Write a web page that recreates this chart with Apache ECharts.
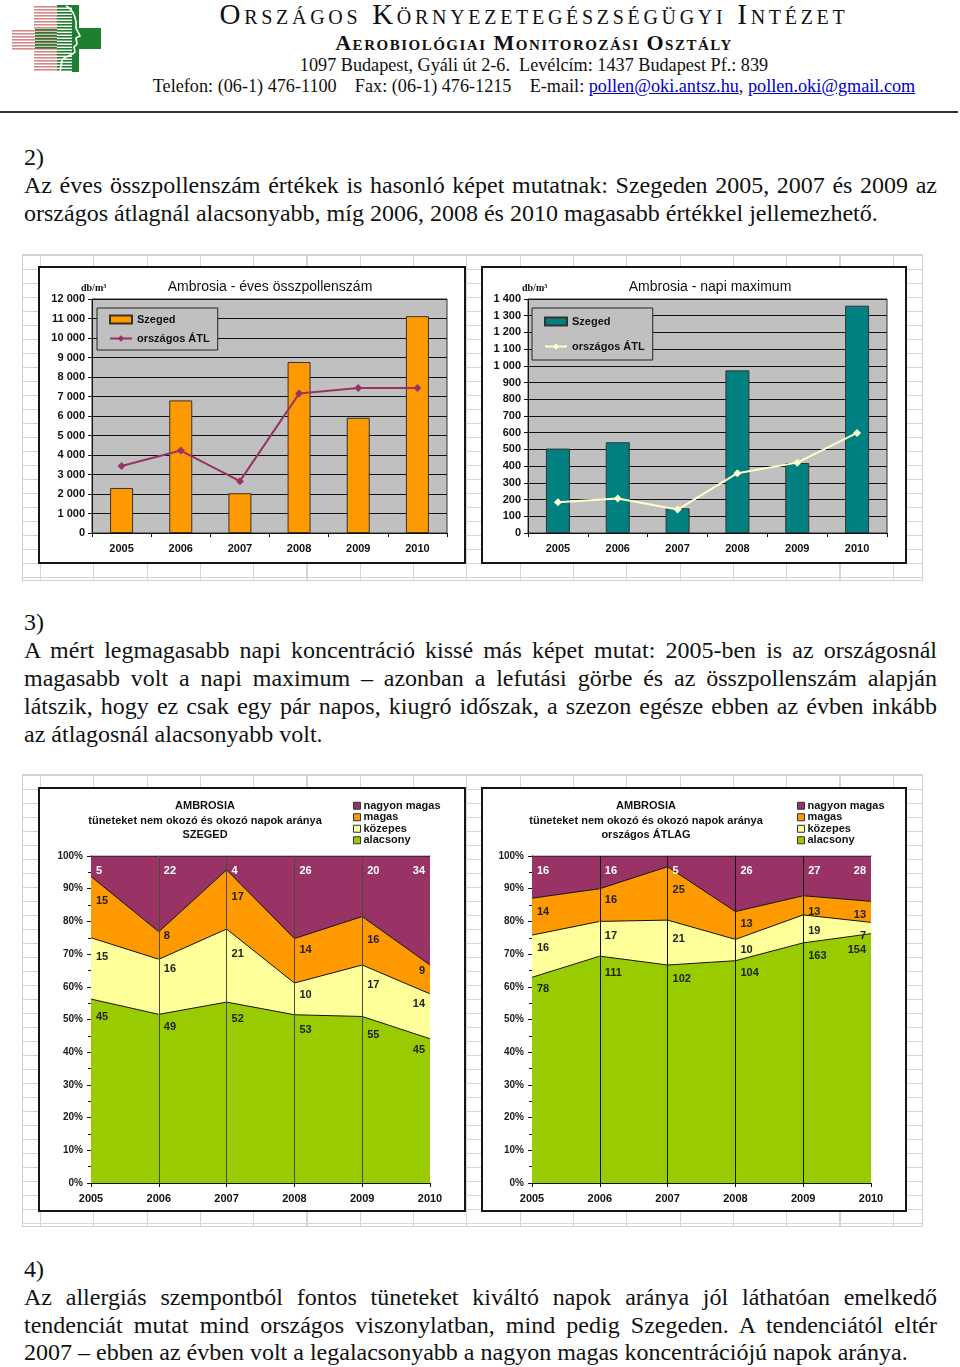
<!DOCTYPE html>
<html>
<head>
<meta charset="utf-8">
<script src="https://cdn.jsdelivr.net/npm/echarts@6/dist/echarts.min.js"></script>
<style>
  html, body { margin:0; padding:0; background:#fff; }
  body { width:960px; height:1367px; position:relative; overflow:hidden; font-family:"Liberation Serif","Times New Roman",serif; color:#111; }
  .abs { position:absolute; }
  .hl { position:absolute; left:134px; width:800px; text-align:center; white-space:nowrap; line-height:1; }
  .para { position:absolute; left:24px; width:913px; font-size:24px; line-height:28px; }
  .para div { white-space:nowrap; }
  .para .j { text-align:justify; text-align-last:justify; }
  .frame { position:absolute; border:1px solid #d0d0d0; box-sizing:border-box;
    background-image:
      repeating-linear-gradient(to right, #d6d6d6 0, #d6d6d6 1px, transparent 1px, transparent 53.3px),
      repeating-linear-gradient(to bottom, #d6d6d6 0, #d6d6d6 1px, transparent 1px, transparent 14px);
  }
  .chart { position:absolute; background:#fff; }
  a { color:#0000cc; text-decoration:underline; }
</style>
</head>
<body>
<!-- logo -->
<svg class="abs" style="left:0;top:0" width="110" height="80" viewBox="0 0 110 80">
  <g id="stripes"></g>
</svg>

<div class="hl" style="top:0px;font-size:29px;font-variant:small-caps;letter-spacing:3.7px;">Országos Környezetegészségügyi Intézet</div>
<div class="hl" style="top:32px;font-size:22px;font-variant:small-caps;font-weight:bold;letter-spacing:1.5px;">Aerobiológiai Monitorozási Osztály</div>
<div class="hl" style="top:55.5px;font-size:18.2px;">1097 Budapest, Gyáli út 2-6.&nbsp; Levélcím: 1437 Budapest Pf.: 839</div>
<div class="hl" style="top:76.5px;font-size:18.2px;">Telefon: (06-1) 476-1100&nbsp;&nbsp;&nbsp; Fax: (06-1) 476-1215&nbsp;&nbsp;&nbsp; E-mail: <a>pollen@oki.antsz.hu</a>, <a>pollen.oki@gmail.com</a></div>
<div class="abs" style="left:0;top:111px;width:958px;height:2px;background:#333;"></div>

<div class="para" style="top:143px;">
  <div>2)</div>
  <div class="j">Az éves összpollenszám értékek is hasonló képet mutatnak: Szegeden 2005, 2007 és 2009 az</div>
  <div>országos átlagnál alacsonyabb, míg 2006, 2008 és 2010 magasabb értékkel jellemezhető.</div>
</div>

<div class="frame" style="left:22px;top:254px;width:901px;height:327px;background-position:17px 0,0 0;"></div>
<div class="chart" id="c1" style="left:38px;top:266px;width:428px;height:298px;"></div>
<div class="chart" id="c2" style="left:481px;top:266px;width:426px;height:298px;"></div>

<div class="para" style="top:608px;">
  <div>3)</div>
  <div class="j">A mért legmagasabb napi koncentráció kissé más képet mutat: 2005-ben is az országosnál</div>
  <div class="j">magasabb volt a napi maximum – azonban a lefutási görbe és az összpollenszám alapján</div>
  <div class="j">látszik, hogy ez csak egy pár napos, kiugró időszak, a szezon egésze ebben az évben inkább</div>
  <div>az átlagosnál alacsonyabb volt.</div>
</div>

<div class="frame" style="left:22px;top:774px;width:901px;height:453px;background-position:17px 0,0 0;"></div>
<div class="chart" id="c3" style="left:38px;top:787px;width:428px;height:425px;"></div>
<div class="chart" id="c4" style="left:481px;top:787px;width:426px;height:425px;"></div>

<div class="para" style="top:1256px;line-height:27.8px;">
  <div>4)</div>
  <div class="j">Az allergiás szempontból fontos tüneteket kiváltó napok aránya jól láthatóan emelkedő</div>
  <div class="j">tendenciát mutat mind országos viszonylatban, mind pedig Szegeden. A tendenciától eltér</div>
  <div>2007 – ebben az évben volt a legalacsonyabb a nagyon magas koncentrációjú napok aránya.</div>
</div>

<script>
// ---------------- DATA ----------------
const years = ['2005', '2006', '2007', '2008', '2009', '2010'];

// Chart 1: Ambrosia - éves összpollenszám (db/m3)
const annualSzeged   = [2310, 6800, 2040, 8770, 5910, 11120];
const annualNational = [3440, 4230, 2660, 7150, 7440, 7430];

// Chart 2: Ambrosia - napi maximum (db/m3)
const peakSzeged   = [505, 543, 148, 973, 419, 1360];
const peakNational = [184, 206, 140, 358, 421, 599];

// Charts 3-4: number of days per concentration level
const levelNames = ['nagyon magas', 'magas', 'közepes', 'alacsony'];
const szegedVeryHigh = [5, 22, 4, 26, 20, 34];
const szegedHigh     = [15, 8, 17, 14, 16, 9];
const szegedMid      = [15, 16, 21, 10, 17, 14];
const szegedLow      = [45, 49, 52, 53, 55, 45];
const nationalVeryHigh = [16, 16, 5, 26, 27, 28];
const nationalHigh     = [14, 16, 25, 13, 13, 13];
const nationalMid      = [16, 17, 21, 10, 19, 7];
const nationalLow      = [78, 111, 102, 104, 163, 154];

// ---------------- LOGO ----------------
(function () {
  const ns = 'http://www.w3.org/2000/svg';
  const g = document.getElementById('stripes');
  function rect(x, y, w, h, fill) {
    const r = document.createElementNS(ns, 'rect');
    r.setAttribute('x', x); r.setAttribute('y', y); r.setAttribute('width', w); r.setAttribute('height', h);
    r.setAttribute('fill', fill); g.appendChild(r);
  }
  rect(57, 5, 22, 67, '#1e7f2e');
  rect(57, 28, 44, 21, '#1e7f2e');
  for (let y = 6; y < 72; y += 3) {
    const inBand = y >= 28 && y < 49;
    rect(inBand ? 12 : 34, y, (inBand ? 45 : 23), 1.6, '#d48a8a');
    rect(57, y + 1.6, 15, 1.4, '#ffffff');
  }
  for (let y = 29; y < 49; y += 3) rect(35, y, 22, 1.6, '#1e7f2e');
  const p = document.createElementNS(ns, 'path');
  p.setAttribute('d', 'M66 6 C74 10 77 20 76 28 L80 36 L76 38 L77 44 L74 47 L75 52 C72 56 64 56 62 60 L60 72');
  p.setAttribute('stroke', '#fff'); p.setAttribute('stroke-width', '1.6'); p.setAttribute('fill', 'none');
  g.appendChild(p);
})();

// ---------------- HELPERS ----------------
function thousands(v) { return String(v).replace(/\B(?=(\d{3})+(?!\d))/g, ' '); }
function frame(w, h) {
  return { type: 'rect', shape: { x: 1, y: 1, width: w - 2, height: h - 2 }, style: { fill: 'none', stroke: '#151515', lineWidth: 2 }, z: 100 };
}
const axisLabelBold = { color: '#111', fontSize: 11, fontWeight: 'bold', fontFamily: 'Liberation Sans, Arial, sans-serif' };

function barLineOption(opts) {
  return {
    animation: false,
    textStyle: { fontFamily: 'Liberation Sans, Arial, sans-serif' },
    title: {
      text: opts.title, left: opts.titleX, top: 9, textAlign: 'center',
      textStyle: { fontSize: 14, fontWeight: 'normal', color: '#111', fontFamily: 'Liberation Sans, Arial, sans-serif' }
    },
    graphic: [
      frame(opts.w, opts.h),
      { type: 'text', left: opts.unitX, top: 17, style: { text: 'db/m³', font: 'bold 10px "Liberation Serif", serif', fill: '#111' } }
    ],
    legend: {
      orient: 'vertical', left: opts.legendX, top: 42, padding: opts.legendPad, itemGap: opts.legendGap,
      itemWidth: 22, itemHeight: 8, backgroundColor: opts.plotBg, borderColor: '#222', borderWidth: 1,
      textStyle: { fontSize: 11, fontWeight: 'bold', color: '#111' },
      data: [{ name: 'Szeged', icon: 'rect' }, { name: 'országos ÁTL' }]
    },
    grid: { left: opts.gridLeft, top: 33, width: opts.gridW, height: 234, show: true, backgroundColor: opts.plotBg, borderColor: '#333', borderWidth: 1 },
    xAxis: {
      type: 'category', data: years,
      axisLine: { lineStyle: { color: '#111', width: 1 } },
      axisTick: { show: true, length: 4, lineStyle: { color: '#111' } },
      axisLabel: Object.assign({ margin: 10 }, axisLabelBold)
    },
    yAxis: {
      type: 'value', min: 0, max: opts.max, interval: opts.interval,
      axisLine: { show: true, lineStyle: { color: '#111' } },
      axisTick: { show: true, length: 4, lineStyle: { color: '#111' } },
      axisLabel: Object.assign({ margin: 7, formatter: thousands }, axisLabelBold),
      splitLine: { lineStyle: { color: '#111', width: 1 } }
    },
    series: [
      { name: 'Szeged', type: 'bar', data: opts.bars, barWidth: opts.barW,
        itemStyle: { color: opts.barColor, borderColor: '#333', borderWidth: 1 } },
      { name: 'országos ÁTL', type: 'line', data: opts.line, symbol: 'diamond', symbolSize: 8,
        lineStyle: { color: opts.lineColor, width: 2 }, itemStyle: { color: opts.lineColor } }
    ]
  };
}

const AREA_W = 339, AREA_H = 327;
function areaOption(opts) {
  const sets = [opts.low, opts.mid, opts.high, opts.vhigh];
  const names = ['alacsony', 'közepes', 'magas', 'nagyon magas'];
  const fills = ['#99CC00', '#FFFF99', '#FF9900', '#993366'];
  const n = years.length;
  const totals = years.map((_, i) => sets.reduce((s, a) => s + a[i], 0));
  const pct = sets.map(arr => arr.map((v, i) => v / totals[i] * 100));
  const cum = pct.map((_, k) => years.map((_, i) => pct.slice(0, k + 1).reduce((s, a) => s + a[i], 0)));
  const catW = AREA_W / (n - 1), dx = 12, pxPerPct = AREA_H / 100;
  const series = sets.map((arr, k) => ({
    name: names[k], type: 'line', stack: 'all',
    symbol: 'circle', symbolSize: 1, showSymbol: true,
    lineStyle: { color: '#111', width: 1 },
    itemStyle: { color: fills[k] },
    areaStyle: { color: fills[k], opacity: 1 },
    label: {
      show: true, position: 'bottom', distance: 9, align: 'left',
      fontSize: 11, fontWeight: 'bold', color: k === 3 ? '#fff' : '#222',
      formatter: p => String(arr[p.dataIndex])
    },
    data: pct[k].map((v, i) => {
      const last = i === n - 1;
      const nb = last ? cum[k][i - 1] : cum[k][i + 1];
      const dy = (cum[k][i] - nb) * pxPerPct * (dx / catW);
      return { value: v, label: last ? { align: 'right', offset: [-5, dy] } : { offset: [5, dy] } };
    }),
    markLine: k === 3 ? {
      silent: true, symbol: 'none', label: { show: false },
      lineStyle: { color: opts.vColor, width: 1, type: 'solid' },
      data: [1, 2, 3, 4].map(i => ({ xAxis: years[i] }))
    } : undefined
  }));
  return {
    animation: false,
    textStyle: { fontFamily: 'Liberation Sans, Arial, sans-serif' },
    graphic: [
      frame(opts.w, opts.h),
      { type: 'text', x: opts.titleX, y: 12, style: { text: opts.title, textAlign: 'center', font: 'bold 11px "Liberation Sans", Arial, sans-serif', fill: '#111', lineHeight: 14.5 } }
    ],
    legend: {
      orient: 'vertical', left: opts.legendX, top: 13, itemGap: 0, itemWidth: 7, itemHeight: 7, padding: 0,
      icon: 'rect', itemStyle: { borderColor: '#333', borderWidth: 1 },
      textStyle: { fontSize: 11, fontWeight: 'bold', color: '#111', lineHeight: 11.5, padding: [0, 0, 0, -2] },
      data: levelNames
    },
    grid: { left: opts.gridLeft, top: 69, width: AREA_W, height: AREA_H },
    xAxis: {
      type: 'category', data: years, boundaryGap: false,
      axisLine: { lineStyle: { color: '#111' } },
      axisTick: { show: true, length: 4, lineStyle: { color: '#111' } },
      axisLabel: Object.assign({ margin: 10 }, axisLabelBold)
    },
    yAxis: {
      type: 'value', min: 0, max: 100, interval: 10,
      axisLine: { show: true, lineStyle: { color: '#111' } },
      axisTick: { show: true, length: 4, lineStyle: { color: '#111' } },
      minorTick: { show: true, splitNumber: 2, length: 3, lineStyle: { color: '#111' } },
      axisLabel: { margin: 8, formatter: '{value}%', fontSize: 10, fontWeight: 'bold', color: '#1a1a1a' },
      splitLine: { show: false }
    },
    series: series
  };
}

// ---------------- CHARTS ----------------
echarts.init(document.getElementById('c1')).setOption(barLineOption({
  w: 428, h: 298, title: 'Ambrosia - éves összpollenszám', titleX: 227, unitX: 43,
  legendX: 59, legendPad: [6, 8, 6, 12], legendGap: 8,
  gridLeft: 54, gridW: 355, plotBg: '#C0C0C0', max: 12000, interval: 1000,
  bars: annualSzeged, line: annualNational, barW: 23, barColor: '#FF9900', lineColor: '#993366'
}));

echarts.init(document.getElementById('c2')).setOption(barLineOption({
  w: 426, h: 298, title: 'Ambrosia - napi maximum', titleX: 224, unitX: 41,
  legendX: 51, legendPad: [8, 8, 8, 12], legendGap: 14,
  gridLeft: 47, gridW: 359, plotBg: '#C0C0C0', max: 1400, interval: 100,
  bars: peakSzeged, line: peakNational, barW: 24, barColor: '#008080', lineColor: '#FFFFCC'
}));

echarts.init(document.getElementById('c3')).setOption(areaOption({
  w: 428, h: 425, titleX: 167, gridLeft: 53, legendX: 315, vColor: '#4a4a3a',
  title: 'AMBROSIA\ntüneteket nem okozó és okozó napok aránya\nSZEGED',
  low: szegedLow, mid: szegedMid, high: szegedHigh, vhigh: szegedVeryHigh
}));

echarts.init(document.getElementById('c4')).setOption(areaOption({
  w: 426, h: 425, titleX: 165, gridLeft: 51, legendX: 316, vColor: '#111',
  title: 'AMBROSIA\ntüneteket nem okozó és okozó napok aránya\nországos ÁTLAG',
  low: nationalLow, mid: nationalMid, high: nationalHigh, vhigh: nationalVeryHigh
}));
</script>
</body>
</html>
